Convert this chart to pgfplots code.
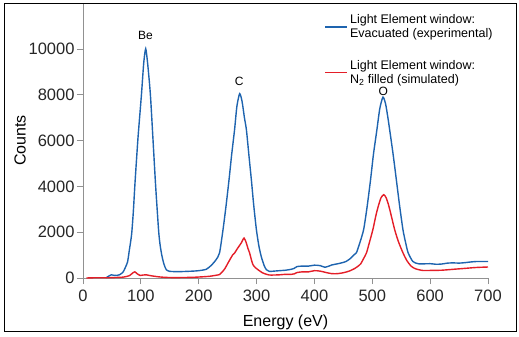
\documentclass[border=0pt]{standalone}
\usepackage{fontspec}
\setmainfont{Liberation Sans}
\usepackage{pgfplots}
\pgfplotsset{compat=1.18}
\definecolor{cblue}{RGB}{30,100,175}
\definecolor{cred}{RGB}{228,30,40}
\definecolor{axgray}{RGB}{145,145,145}
\begin{document}
\begin{tikzpicture}
\begin{axis}[
  name=ax, at={(0,0)}, anchor=south west,
  scale only axis, width=405pt, height=274.8pt,
  xmin=0, xmax=700, ymin=0, ymax=12000,
  axis lines=left,
  axis line style={draw=axgray, line width=0.8pt, -},
  xtick={0,100,...,700}, ytick={0,2000,...,10000},
  tick align=outside, major tick length=6pt,
  tick style={draw=axgray, line width=0.8pt},
  scaled y ticks=false,
  /pgf/number format/set thousands separator={},
  /pgf/number format/assume math mode=true,
  tick label style={font=\fontsize{16.5}{19}\selectfont, text=black!85},
  xticklabel style={yshift=-2.5pt},
  yticklabel style={xshift=1pt},
  every axis x label/.style={at={(axis description cs:0.5,0)}, yshift=-48.4pt, anchor=base, font=\fontsize{16}{19}\selectfont},
  every axis y label/.style={at={(axis description cs:0,0.5)}, xshift=-63pt, rotate=90, anchor=center, font=\fontsize{16}{19}\selectfont},
  xlabel={Energy (eV)}, ylabel={Counts},
  legend cell align=left,
  legend style={draw=none, fill=none, at={(axis description cs:0.596,0.966)}, anchor=north west,
    font=\fontsize{12.5}{14}\selectfont, cells={align=left}, row sep=17pt, inner sep=0pt},
  legend image code/.code={\draw[#1, line width=1.5pt] (0pt,0pt) -- (22pt,0pt); \path (0pt,-8pt);},
]
\addplot[cblue, line width=1.4pt, smooth, tension=0.4] coordinates {
(40,10) (45,90) (49,140) (53,120) (58,110) (63,140) (69,250) (73,450) (77,700)
(80,1200) (84,1900) (87,2900) (90,4200) (95,6100) (101,8000) (105,9400) (108.4,10010)
(112,9300) (116.5,8000) (121,6040) (125.6,4000) (130.8,2035) (133.5,1400) (136.6,945)
(140,600) (144,360) (150,290) (160,280) (170,280) (180,290) (190,300) (200,320)
(213,380) (222,560) (230,800) (236,1100) (242,2110) (247,3100) (252.4,4290) (257,5400)
(262,6480) (266,7500) (270.8,8050) (275,7700) (279,7000) (282.4,6480) (287,5300)
(291,4290) (295,3200) (299.7,2110) (304,1400) (308,945) (313,550) (317,360) (322,290)
(330,300) (340,320) (350,340) (360,380) (365,420) (370,500) (380,520) (390,520)
(400,560) (410,540) (418,470) (425,520) (430,570) (440,620) (450,680) (455,725)
(462,850) (468,1000) (472.5,1100) (478,1500) (485,2110) (491,3100) (497,4290)
(502,5400) (508,6480) (513,7400) (518.5,7900) (523,7600) (527,7000) (530,6480)
(536,5400) (541.6,4290) (547,3200) (553,2110) (558,1500) (562,1100) (570,725)
(580,620) (600,625) (610,600) (620,610) (630,650) (640,660) (650,650) (660,670)
(670,700) (680,720) (690,720) (700,720)
};
\addlegendentry{Light Element window:\\Evacuated (experimental)}
\addplot[cred, line width=1.4pt, smooth, tension=0.4] coordinates {
(6,0) (20,10) (40,10) (55,20) (70,40) (80,100) (85,200) (89.4,270) (94,180) (99,110)
(104,130) (109.5,140) (115,110) (125,70) (135,40) (150,20) (170,20) (190,30) (205,50)
(219,75) (230,120) (236,150) (239,220) (245,400) (250.6,655) (255,850) (259,1020)
(262,1090) (266,1250) (270,1400) (274,1550) (278.3,1745) (282,1550) (285,1300)
(288,1090) (291,800) (293.8,580) (298,450) (302.5,360) (310,230) (316,170) (322,130)
(330,130) (340,140) (350,160) (360,160) (365,180) (370,240) (380,270) (390,270)
(400,320) (410,300) (420,240) (430,190) (440,190) (450,230) (460,300) (470,420)
(475,508) (480,620) (485,850) (490,1100) (495,1550) (501,2110) (506,2700) (510,3100)
(515,3500) (520,3640) (524,3500) (528,3200) (533,2700) (538.7,2110) (545,1600)
(553,1100) (560,750) (567.5,508) (575,400) (587,330) (600,330) (620,340) (640,380)
(660,420) (680,460) (700,480)
};
\addlegendentry{Light Element window:\\N\textsubscript{2} filled (simulated)}
\node[font=\fontsize{12}{14}\selectfont] at (axis cs:108,10600) {Be};
\node[font=\fontsize{12}{14}\selectfont] at (axis cs:270,8600) {C};
\node[font=\fontsize{12}{14}\selectfont, inner sep=0pt] at (axis cs:519,8150) {O};
\end{axis}
\draw[black, line width=1pt] (ax.south west) ++(-78pt,-54pt) rectangle ++(511pt,328pt);
\pgfresetboundingbox
\path[use as bounding box] (ax.south west) ++(-83pt,-59pt) rectangle ++(519pt,337pt);
\end{tikzpicture}
\end{document}
